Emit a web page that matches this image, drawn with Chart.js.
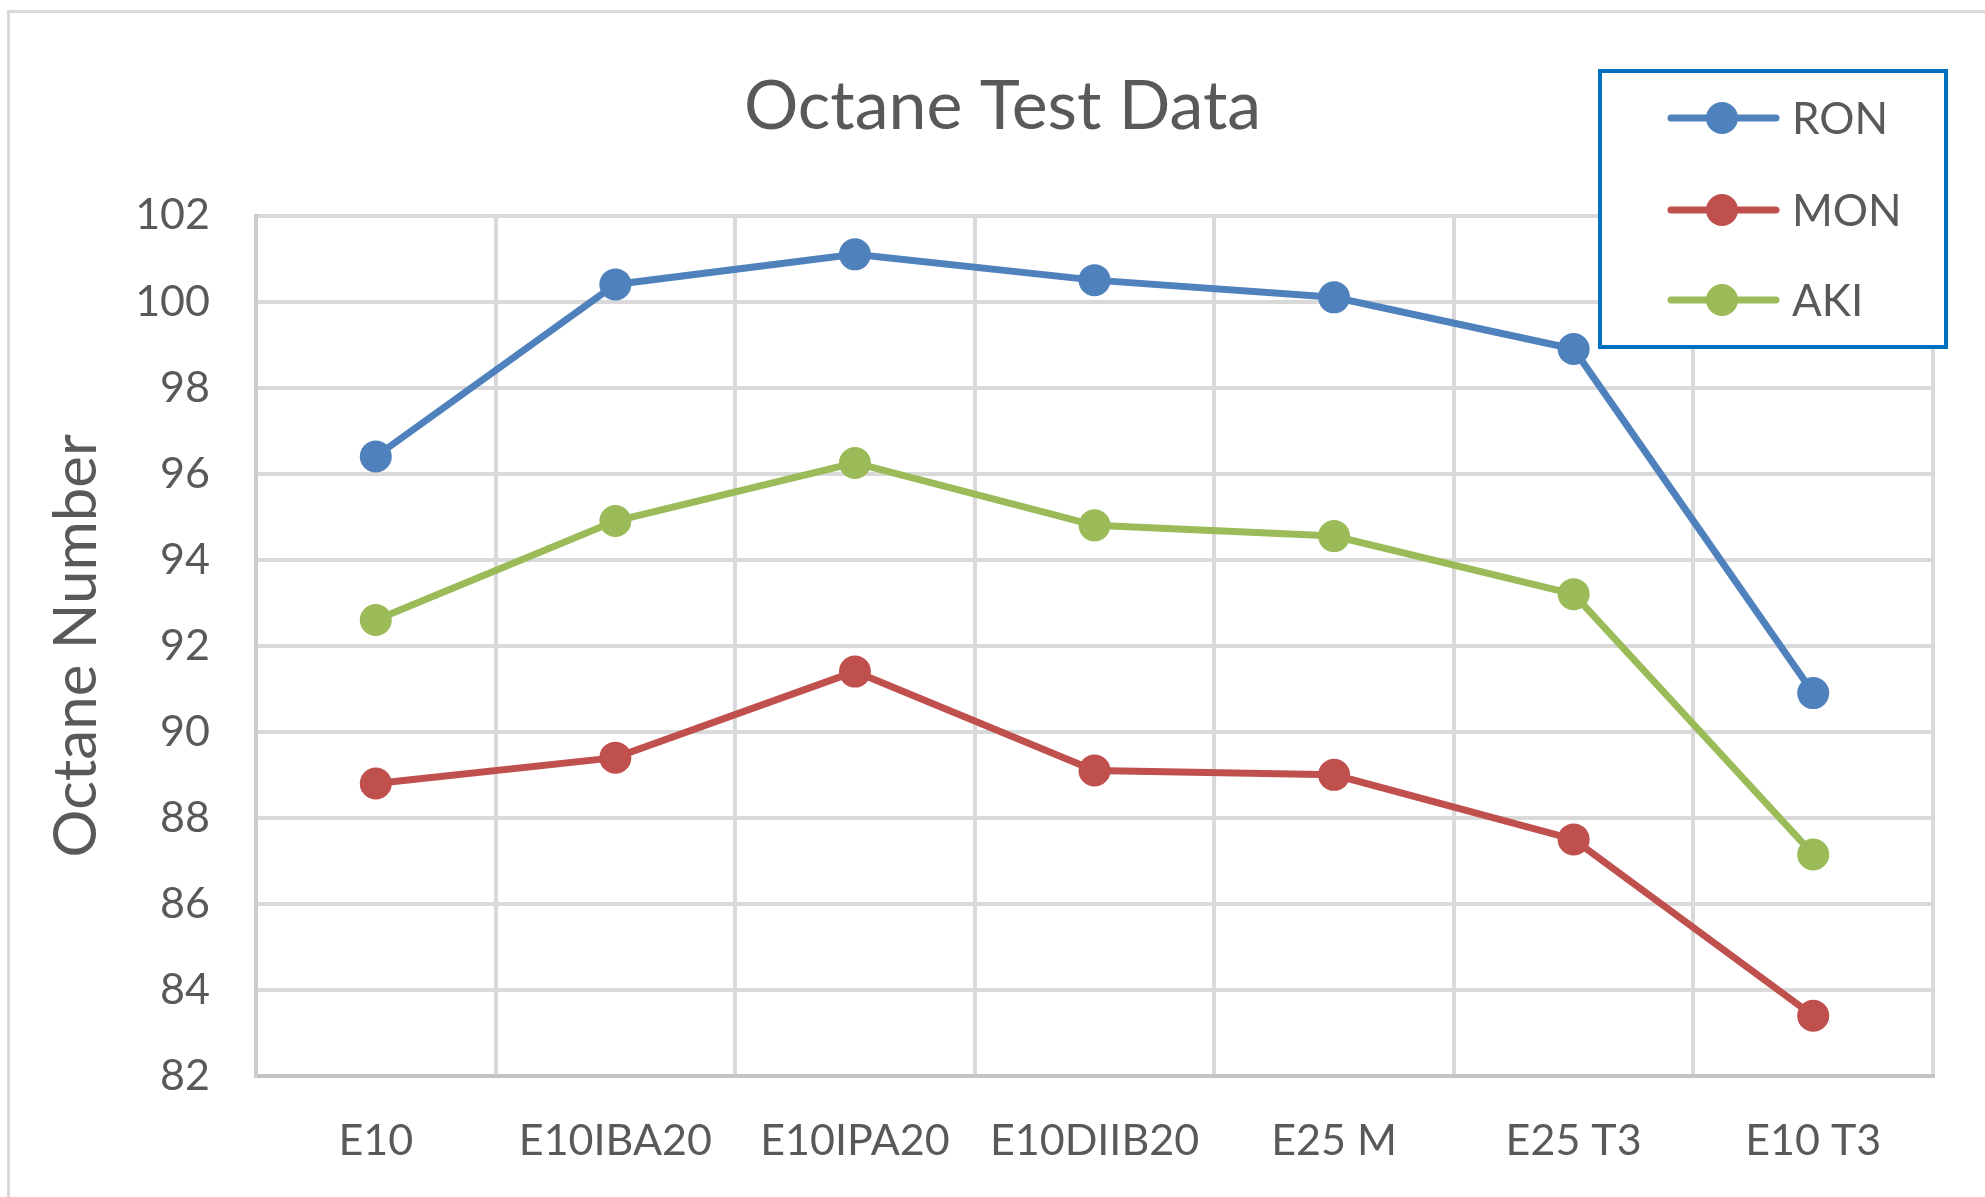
<!DOCTYPE html>
<html>
<head>
<meta charset="utf-8">
<title>Octane Test Data</title>
<script src="https://cdn.jsdelivr.net/npm/chart.js@4.4.1/dist/chart.umd.min.js"></script>
<style>
    html, body { margin: 0; padding: 0; background: #fff; overflow: hidden; }
    #frame {
        position: absolute; left: 7px; top: 10px;
        width: 2100px; height: 1300px;
        border: 3px solid #d9d9d9;
    }
    #wrap { position: absolute; left: 0; top: 0; width: 1985px; height: 1197px; }
</style>
</head>
<body>
<div id="frame"></div>
<div id="wrap"><canvas id="octaneChart" width="1985" height="1197"></canvas></div>
<script>
const categories = ['E10', 'E10IBA20', 'E10IPA20', 'E10DIIB20', 'E25 M', 'E25 T3', 'E10 T3'];
const ronValues = [96.4, 100.4, 101.1, 100.5, 100.1, 98.9, 90.9];
const monValues = [88.8, 89.4, 91.4, 89.1, 89.0, 87.5, 83.4];
const akiValues = [92.6, 94.9, 96.25, 94.8, 94.55, 93.2, 87.15];
const seriesNames = ['RON', 'MON', 'AKI'];
const seriesColors = ['#4f81bd', '#c0504d', '#9bbb59'];
const yMin = 82;
const yMax = 102;
const yStep = 2;

const textColor = '#595959';
const fontFamily = 'Lato, "Open Sans", sans-serif';

let octaneChart;

// legend box sits over the top right of the plot, like the Excel original
const boxLegend = {
    id: 'boxLegend',
    afterDraw(chart) {
        const ctx = chart.ctx;
        const box = { x: 1600, y: 71, w: 346, h: 276 };
        const rows = [118, 210, 300];

        ctx.save();
        ctx.fillStyle = '#ffffff';
        ctx.fillRect(box.x, box.y, box.w, box.h);
        ctx.strokeStyle = '#0070c0';
        ctx.lineWidth = 4;
        ctx.strokeRect(box.x, box.y, box.w, box.h);

        chart.data.datasets.forEach((ds, i) => {
            const y = rows[i];
            ctx.strokeStyle = ds.borderColor;
            ctx.lineWidth = 7;
            ctx.lineCap = 'round';
            ctx.beginPath();
            ctx.moveTo(1671, y);
            ctx.lineTo(1776, y);
            ctx.stroke();

            ctx.fillStyle = ds.borderColor;
            ctx.beginPath();
            ctx.arc(1722, y, 16, 0, Math.PI * 2);
            ctx.fill();

            ctx.fillStyle = textColor;
            ctx.font = '44px ' + fontFamily;
            ctx.textAlign = 'left';
            ctx.textBaseline = 'middle';
            ctx.fillText(ds.label, 1792, y + 2);
        });
        ctx.restore();
    }
};

function makeDataset(label, values, color) {
    return {
        label: label,
        data: values,
        borderColor: color,
        backgroundColor: color,
        borderWidth: 7,
        tension: 0,
        pointRadius: 16,
        pointHoverRadius: 16,
        pointBorderWidth: 0,
        pointBackgroundColor: color
    };
}

function createChart() {
    const ctx = document.getElementById('octaneChart').getContext('2d');

    octaneChart = new Chart(ctx, {
        type: 'line',
        data: {
            labels: categories,
            datasets: [
                makeDataset(seriesNames[0], ronValues, seriesColors[0]),
                makeDataset(seriesNames[1], monValues, seriesColors[1]),
                makeDataset(seriesNames[2], akiValues, seriesColors[2])
            ]
        },
        options: {
            responsive: false,
            animation: false,
            layout: {
                padding: { left: 72, right: 52, top: 0, bottom: 0 }
            },
            plugins: {
                legend: { display: false },
                tooltip: { enabled: false },
                title: {
                    display: true,
                    text: 'Octane Test Data',
                    color: textColor,
                    font: { family: fontFamily, size: 68, weight: 'normal' },
                    padding: { top: 66, bottom: 68 }
                }
            },
            scales: {
                x: {
                    offset: true,
                    grid: { offset: true, color: '#d9d9d9', lineWidth: 4, drawTicks: false },
                    border: { color: '#c4c4c4', width: 4 },
                    ticks: {
                        color: textColor,
                        font: { family: fontFamily, size: 43 },
                        padding: 39,
                        maxRotation: 0,
                        autoSkip: false
                    },
                    afterFit: s => { s.height = 121; }
                },
                y: {
                    min: yMin,
                    max: yMax,
                    grid: { color: '#d9d9d9', lineWidth: 4, drawTicks: false },
                    border: { color: '#cccccc', width: 4 },
                    ticks: {
                        stepSize: yStep,
                        color: textColor,
                        font: { family: fontFamily, size: 43 },
                        padding: 46
                    },
                    title: {
                        display: true,
                        text: 'Octane Number',
                        color: textColor,
                        font: { family: fontFamily, size: 60, weight: 'normal' },
                        padding: { top: -31, bottom: 0 }
                    },
                    afterFit: s => { s.width = 184; }
                }
            }
        },
        plugins: [boxLegend]
    });
}

document.fonts.load('68px Lato').then(createChart, createChart);
</script>
</body>
</html>
